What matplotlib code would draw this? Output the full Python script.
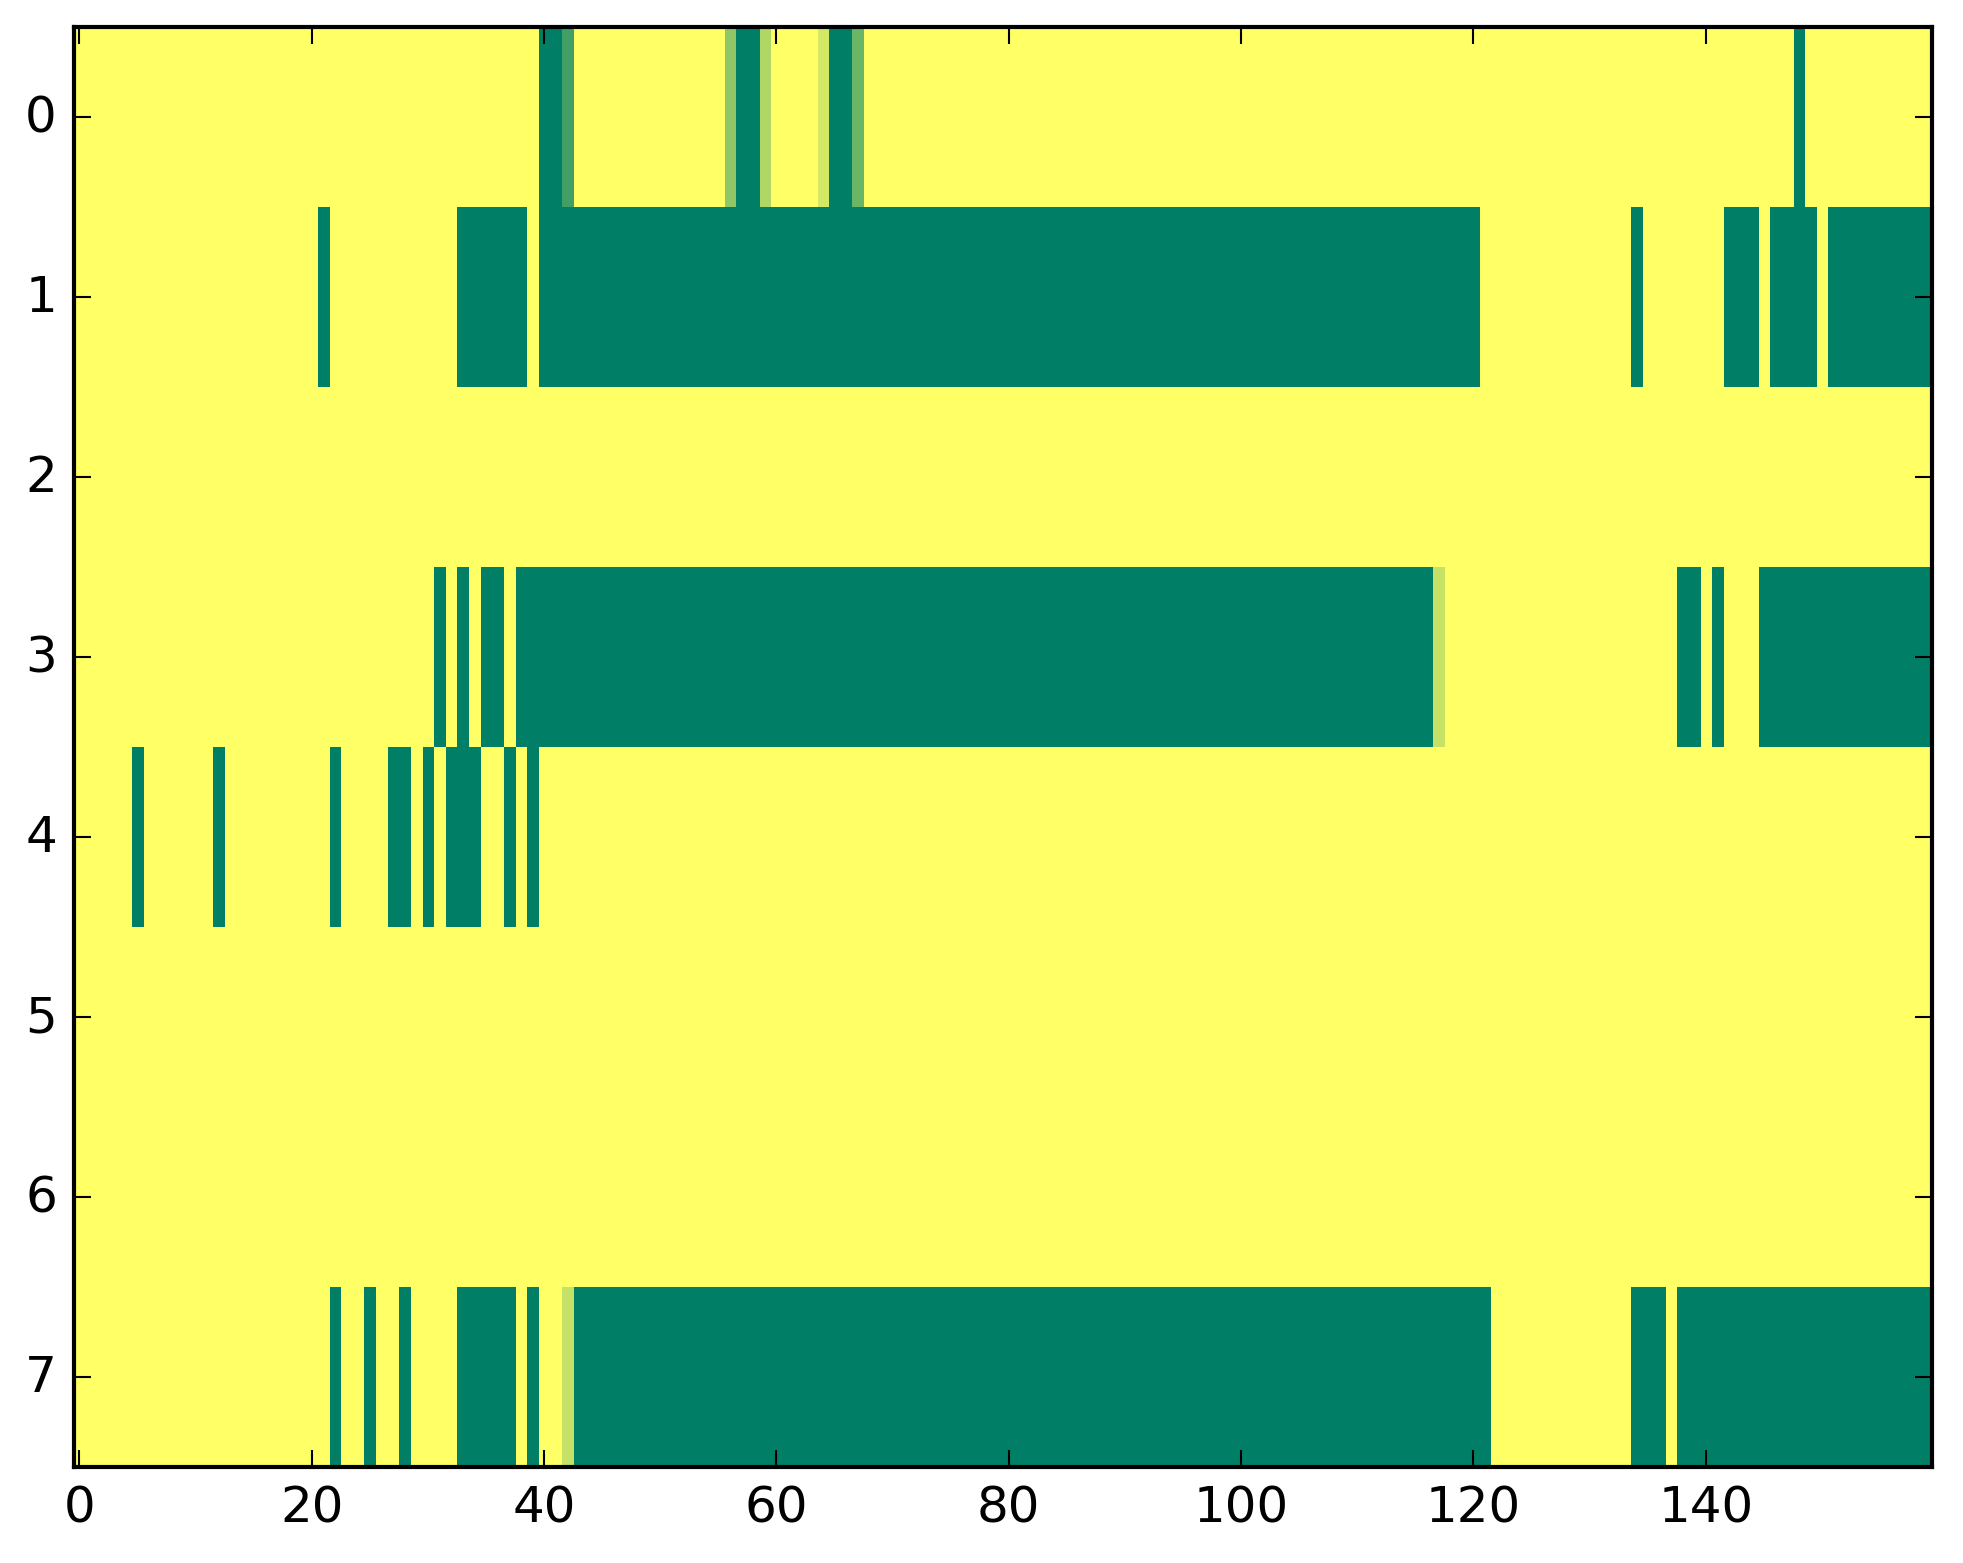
import numpy as np
import matplotlib
matplotlib.use("Agg")
import matplotlib.pyplot as plt

plt.style.use("classic")

N_ROWS, N_COLS = 8, 160

# runs of (first column, last column, value) for each row; everything else is 0
row0 = [(40, 41, 1.0), (42, 42, 0.75), (56, 56, 0.44), (57, 58, 1.0),
        (59, 59, 0.31), (64, 64, 0.17), (65, 66, 1.0), (67, 67, 0.58),
        (148, 148, 1.0)]
row1 = [(21, 21, 1.0), (33, 38, 1.0), (40, 120, 1.0), (134, 134, 1.0),
        (142, 144, 1.0), (146, 149, 1.0), (151, 159, 1.0)]
row2 = []
row3 = [(31, 31, 1.0), (33, 33, 1.0), (35, 36, 1.0), (38, 116, 1.0),
        (117, 117, 0.23), (138, 139, 1.0), (141, 141, 1.0), (145, 159, 1.0)]
row4 = [(5, 5, 1.0), (12, 12, 1.0), (22, 22, 1.0), (27, 28, 1.0),
        (30, 30, 1.0), (32, 34, 1.0), (37, 37, 1.0), (39, 39, 1.0)]
row5 = []
row6 = []
row7 = [(22, 22, 1.0), (25, 25, 1.0), (28, 28, 1.0), (33, 37, 1.0),
        (39, 39, 1.0), (42, 42, 0.23), (43, 121, 1.0), (134, 136, 1.0),
        (138, 159, 1.0)]

rows = [row0, row1, row2, row3, row4, row5, row6, row7]

grid = np.zeros((N_ROWS, N_COLS))
for r, runs in enumerate(rows):
    for c0, c1, val in runs:
        grid[r, c0:c1 + 1] = val

dpi = 300
fig = plt.figure(figsize=(1963 / dpi, 1564 / dpi), dpi=dpi, facecolor="white")
ax = fig.add_axes([0.0375, 0.0612, 0.9469, 0.9207])
ax.imshow(grid, cmap="summer_r", vmin=0, vmax=1, aspect="auto",
          interpolation="nearest")
ax.set_xticks(np.arange(0, 160, 20))
ax.set_yticks(np.arange(0, 8))

fig.savefig("out.png", dpi=dpi, facecolor="white")
